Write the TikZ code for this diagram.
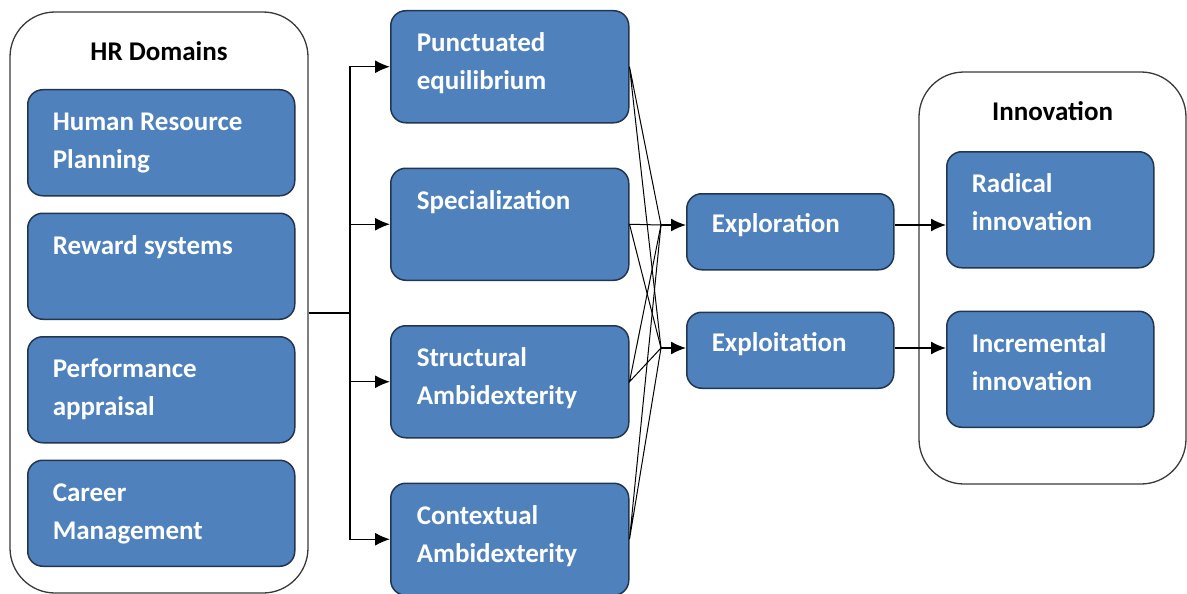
\documentclass[tikz,border=0pt]{standalone}
\usepackage{fontspec}
\setmainfont{Carlito}
\usetikzlibrary{arrows.meta,positioning}
\definecolor{boxblue}{HTML}{4F81BD}
\definecolor{boxline}{HTML}{22364F}
\definecolor{frameline}{HTML}{3A3A3A}

\begin{document}
\begin{tikzpicture}[x=1pt, y=-1pt,
			font=\fontsize{27}{38}\selectfont\bfseries,
			frame/.style  = {draw=frameline, line width=1.3pt, rounded corners=45pt, fill=white},
			head/.style   = {text=black, inner sep=0pt},
			blk/.style    = {draw=boxline, line width=1.5pt, rounded corners=15pt, fill=boxblue, text=white,
				align=flush left, anchor=north west, inner xsep=25pt, inner ysep=10pt, text height=31pt},
			hrbox/.style  = {blk, text width=217pt, text depth=55pt},
			midbox/.style = {blk, inner xsep=26pt, text width=186pt, text depth=61pt},
			expbox/.style = {blk, text width=157pt, text height=29pt, text depth=27pt},
			innbox/.style = {blk, text width=157pt, text depth=65pt},
			link/.style   = {line width=1.3pt, black},
			>={Latex[length=15pt,width=13pt]}]
			
			\useasboundingbox (0,0) rectangle (1187,594);
			
			% outer frames with their titles
			\node[frame, minimum width=298pt, minimum height=581pt] (hr) at (159,302.5) {};
			\node[head] (hrtitle) at ([yshift=-40pt]hr.north) {HR Domains};
			\node[frame, minimum width=267pt, minimum height=412pt] (inno) at (1052.5,278) {};
			\node[head] (innotitle) at ([yshift=-40pt]inno.north) {Innovation};
			
			\begin{scope}[node distance=16pt]
				\node[hrbox] (h1) at (27,89) {Human Resource\\Planning};
				\node[hrbox, below=of h1] (h2) {Reward systems};
				\node[hrbox, below=of h2] (h3) {Performance\\appraisal};
				\node[hrbox, below=of h3] (h4) {Career\\Management};
			\end{scope}
			
			\begin{scope}[node distance=44pt]
				\node[midbox] (p1) at (390,10) {Punctuated\\equilibrium};
				\node[midbox, below=of p1] (p2) {Specialization};
				\node[midbox, below=of p2] (p3) {Structural\\Ambidexterity};
				\node[midbox, below=of p3] (p4) {Contextual\\Ambidexterity};
			\end{scope}
			
			\node[expbox] (ex1) at (686,193) {Exploration};
			\node[expbox, below=41pt of ex1] (ex2) {Exploitation};
			
			\node[innbox] (in1) at (946,151) {Radical\\innovation};
			\node[innbox, below=42pt of in1] (in2) {Incremental\\innovation};
			
			\coordinate (trunk) at (350,313);
			\coordinate (m1) at (661,225);
			\coordinate (m2) at (661,348);
			
			\draw[link] (hr.east |- trunk) -- (trunk);
			\foreach \value in {1,...,4}
			\draw[->, link] (trunk) |- (p\value.west);
			
			\foreach \value in {1,...,4}
			\draw[link, line width=1pt] (m1) -- (p\value.east) -- (m2);
			
			\foreach \value in {1,2}
			\draw[->, link] (m\value) -- (ex\value.west |- m\value);
			
			\foreach \value in {1,2}
			\draw[->, link] (ex\value.east |- m\value) -- (in\value.west |- m\value);
		\end{tikzpicture}
\end{document}
